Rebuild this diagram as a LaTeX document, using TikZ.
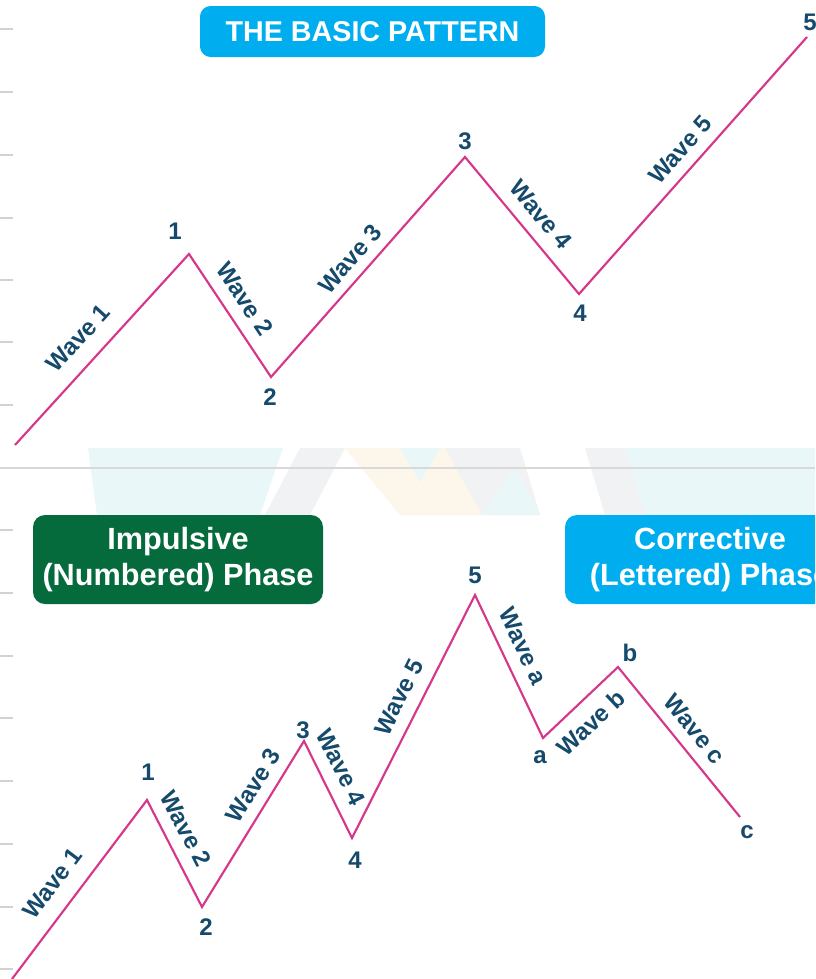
\documentclass[tikz,border=0pt]{standalone}
\usepackage{fontspec}
\setmainfont{Liberation Sans}
\usetikzlibrary{positioning}

\definecolor{wavepink}{HTML}{D6378A}
\definecolor{labelnavy}{HTML}{164A6C}
\definecolor{boxcyan}{HTML}{00AEEF}
\definecolor{boxgreen}{HTML}{056B3D}
\definecolor{markcyan}{HTML}{EAF7F9}
\definecolor{markbeige}{HTML}{FDF6EA}
\definecolor{markgrey}{HTML}{F1F2F4}

\begin{document}
\begin{tikzpicture}[x=0.75pt, y=-0.75pt,
wave/.style={draw=wavepink, line width=1.6pt},
lbl/.style={text=labelnavy, font=\fontsize{18}{20}\selectfont\bfseries, inner sep=1pt, sloped},
num/.style={text=labelnavy, font=\fontsize{18}{20}\selectfont\bfseries, inner sep=0pt},
phasebox/.style={rounded corners=9pt, text=white, align=center,
  minimum width=217.5pt, minimum height=66.75pt,
  font=\fontsize{23}{27.5}\selectfont\bfseries},
tick/.style={draw=gray!35, line width=0.8pt}]

\useasboundingbox (0,0) rectangle (815,979);
\fill[white] (0,0) rectangle (815,979);
\clip (0,0) rectangle (815,979);

% faint watermark band
\fill[markcyan] (88,448) -- (283,448) -- (260,515) -- (97,515) -- cycle;
\fill[markgrey] (300,448) -- (345,448) -- (310,515) -- (265,515) -- cycle;
\fill[markbeige] (345,448) -- (445,448) -- (482,515) -- (400,515) -- cycle;
\fill[markcyan] (400,448) -- (440,448) -- (420,482) -- cycle;
\fill[markgrey] (445,448) -- (520,448) -- (540,515) -- (482,515) -- cycle;
\fill[markcyan] (482,515) -- (540,515) -- (515,468) -- cycle;
\fill[markgrey] (585,448) -- (625,448) -- (645,515) -- (605,515) -- cycle;
\fill[markcyan] (625,448) -- (815,448) -- (815,515) -- (645,515) -- cycle;
\draw[gray!30, line width=0.8pt] (0,468) -- (815,468);

% grid ticks
\foreach \y in {29,92,155,218,280,342,405,530,593,656,718,781,844,907,969}
  \draw[tick] (0,\y) -- (13,\y);

% basic pattern
\node[fill=boxcyan, rounded corners=8pt, text=white, minimum width=258.75pt,
  minimum height=38.25pt, font=\fontsize{21.5}{24}\selectfont\bfseries]
  (title) at (372.5,31.5) {THE BASIC PATTERN};

\coordinate (s0) at (15,445);
\coordinate (s1) at (189,254);
\coordinate (s2) at (271,377);
\coordinate (s3) at (465,157);
\coordinate (s4) at (579,294);
\coordinate (s5) at (807,37);

\draw[wave] (s0) -- node[lbl, pos=.47, above=11pt] {Wave 1}
  (s1) -- node[lbl, pos=.46, above=8pt] {Wave 2}
  (s2) -- node[lbl, pos=.48, above=6pt] {Wave 3}
  (s3) -- node[lbl, pos=.52, above=8pt] {Wave 4}
  (s4) -- node[lbl, pos=.51, above=7pt] {Wave 5} (s5);

\node[num] (sn1) at (175,231) {1};
\node[num] (sn2) at (270,397) {2};
\node[num] (sn3) at (465,141) {3};
\node[num] (sn4) at (580,313) {4};
\node[num] (sn5) at (810,22) {5};

% impulsive and corrective phases
\node[phasebox, fill=boxgreen] (impulse) at (178,559.5) {Impulsive\\(Numbered) Phase};
\node[phasebox, fill=boxcyan] (correct) at (710,559.5) {Corrective\\(Lettered) Phase};

\coordinate (i0) at (12,979);
\coordinate (i1) at (147,800);
\coordinate (i2) at (202,907);
\coordinate (i3) at (304,741);
\coordinate (i4) at (352,838);
\coordinate (i5) at (475,595);
\coordinate (ca) at (543,738);
\coordinate (cb) at (618,667);
\coordinate (cc) at (740,817);

\draw[wave] (i0) -- node[lbl, pos=.45, above=11pt] {Wave 1}
  (i1) -- node[lbl, pos=.36, above=8pt] {Wave 2}
  (i2) -- node[lbl, pos=.67, above=7pt] {Wave 3}
  (i3) -- node[lbl, pos=.37, above=8pt] {Wave 4}
  (i4) -- node[lbl, pos=.54, above=8pt] {Wave 5}
  (i5) -- node[lbl, pos=.42, above=8pt] {Wave a}
  (ca) -- node[lbl, pos=.44, below=8pt] {Wave b}
  (cb) -- node[lbl, pos=.50, above=7pt] {Wave c} (cc);

\node[num] (in1) at (148,772) {1};
\node[num] (in2) at (206,927) {2};
\node[num] (in3) at (303,730) {3};
\node[num] (in4) at (355,860) {4};
\node[num] (in5) at (475,575) {5};
\node[num] (ina) at (540,757) {a};
\node[num] (inb) at (630,653) {b};
\node[num] (inc) at (747,832) {c};

\end{tikzpicture}
\end{document}
